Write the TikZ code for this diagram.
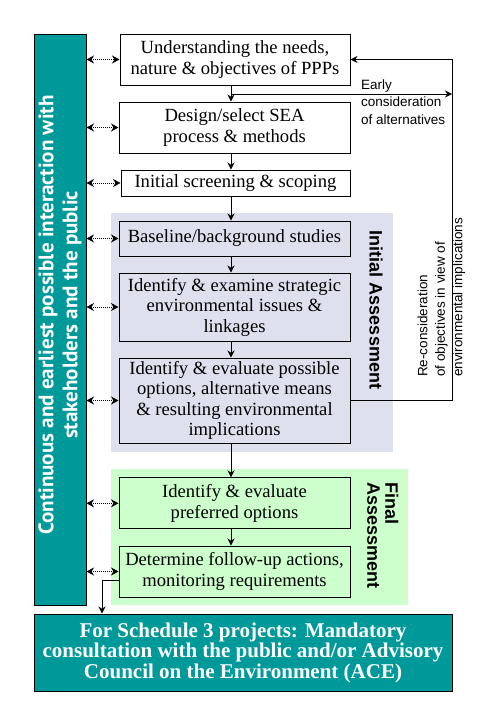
\documentclass[tikz,border=0pt]{standalone}
\usepackage{fontspec}
\setmainfont{Liberation Serif}
\newfontfamily\arialfont{Liberation Sans}
\newfontfamily\barfont{PT Sans}
\usetikzlibrary{arrows.meta}
\definecolor{tealbox}{RGB}{0,153,153}
\definecolor{lav}{RGB}{223,224,238}
\definecolor{lgreen}{RGB}{204,255,204}
\begin{document}
\begin{tikzpicture}[x=1pt,y=-1pt,
  box/.style={draw, line width=1pt, inner sep=0pt, align=center, font=\fontsize{18.6}{20.5}\selectfont},
  flow/.style={-{Stealth[length=7pt,width=7pt]}, line width=1pt},
  link/.style={{Stealth[length=7.5pt,width=8pt]}-{Stealth[length=7.5pt,width=8pt]}, densely dotted, line width=1pt},
  side/.style={inner sep=0pt, align=left, font=\arialfont\fontsize{13.5}{17.5}\selectfont},
  phase/.style={inner sep=0pt, align=left, font=\arialfont\bfseries\fontsize{18}{18}\selectfont},
]
\useasboundingbox (0,0) rectangle (502,724);
\fill[white] (0,0) rectangle (502,724);
% phase regions
\fill[lav] (111,213) rectangle (393,452);
\fill[lgreen] (111,469) rectangle (408,605);
% left bar
\node[draw, fill=tealbox, line width=1pt, minimum width=52pt, minimum height=571pt, inner sep=0pt] (bar) at (60,319.5) {};
\node[rotate=90, align=center, text=white, inner sep=0pt, font=\barfont\bfseries\fontsize{21}{24}\selectfont] (bartext) at (60,315) {Continuous and earliest possible interaction with\\stakeholders and the public};
% boxes
\node[box, fill=white, minimum width=230pt, minimum height=51pt] (b1) at (235,59.5) {Understanding the needs,\\nature \& objectives of PPPs};
\node[box, fill=white, minimum width=231pt, minimum height=51pt] (b2) at (234.5,127.5) {Design/select SEA\\process \& methods};
\node[box, fill=white, minimum width=229pt, minimum height=26pt] (b3) at (235.5,183) {Initial screening \& scoping};
\node[box, minimum width=231pt, minimum height=35pt] (b4) at (234.5,238.5) {Baseline/background studies};
\node[box, minimum width=231pt, minimum height=68pt] (b5) at (234.5,307) {Identify \& examine strategic\\environmental issues \&\\linkages};
\node[box, minimum width=231pt, minimum height=85pt] (b6) at (234.5,400.5) {Identify \& evaluate possible\\options, alternative means\\\& resulting environmental\\implications};
\node[box, minimum width=231pt, minimum height=51pt] (b7) at (234.5,503.3) {Identify \& evaluate\\preferred options};
\node[box, minimum width=231pt, minimum height=51pt] (b8) at (234.5,571.5) {Determine follow-up actions,\\monitoring requirements};
\node[draw, fill=tealbox, line width=1pt, minimum width=418pt, minimum height=77pt, inner sep=0pt, align=center, text=white, font=\bfseries\fontsize{21}{20.5}\selectfont] (bot) at (243,652.5) {For Schedule 3 projects: Mandatory\\consultation with the public and/or Advisory\\Council on the Environment (ACE)};
% phase labels
\node[phase, rotate=-90, anchor=center] (ia) at (376,310) {Initial Assessment};
\node[phase, rotate=-90, anchor=north west] (fa) at (398.5,482) {Final\\Assessment};
% side labels
\node[side, anchor=north west] (early) at (361,79.5) {Early\\consideration\\of alternatives};
\node[side, rotate=90, anchor=north west] (recon) at (417.5,377) {Re-consideration\\of objectives in view of\\environmental implications};
% coordinates
\coordinate (ax) at (231,0);
\coordinate (rx) at (452,0);
\coordinate (ec) at (231,94);
\coordinate (fu) at (102,580);
% flow arrows
\draw[flow] (b1.south -| ax) -- (b2.north -| ax);
\draw[flow] (b2.south -| ax) -- (b3.north -| ax);
\draw[flow] (b3.south -| ax) -- (b4.north -| ax);
\draw[flow] (b4.south -| ax) -- (b5.north -| ax);
\draw[flow] (b5.south -| ax) -- (b6.north -| ax);
\draw[flow] (b6.south -| ax) -- (b7.north -| ax);
\draw[flow] (b7.south -| ax) -- (b8.north -| ax);
\draw[flow] (ec) -- (ec -| rx);
\draw[flow] (b6.east) -- (b6.east -| rx) -- (rx |- b1.east) -- (b1.east);
\draw[flow] (b8.west |- fu) -- (fu) -- (fu |- bot.north);
% interaction links
\foreach \b in {b1,b2,b3,b4,b5,b6,b7,b8}
  \draw[link] (bar.east |- \b.west) -- (\b.west);
\end{tikzpicture}
\end{document}
